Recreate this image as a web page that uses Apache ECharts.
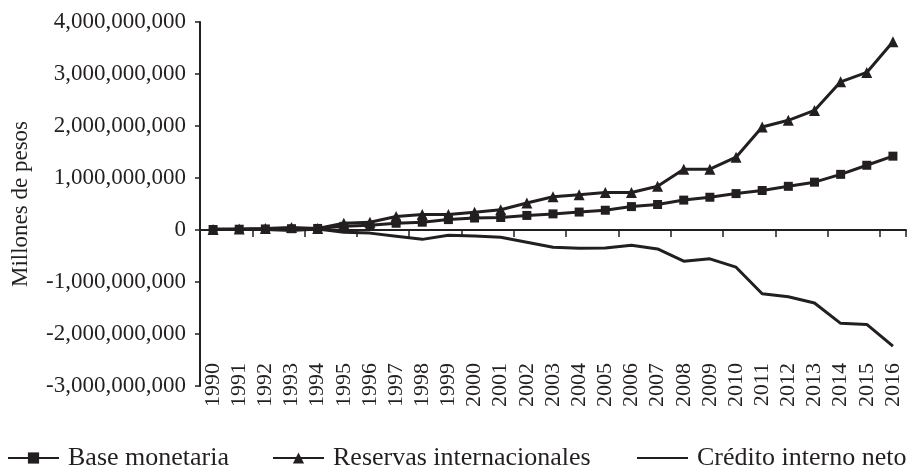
<!DOCTYPE html>
<html>
<head>
<meta charset="utf-8">
<script src="https://cdn.jsdelivr.net/npm/echarts@6/dist/echarts.min.js"></script>
<style>
  html, body { margin: 0; padding: 0; background: #fff; }
  #main-chart { width: 919px; height: 469px; }
</style>
</head>
<body>
<div id="main-chart"></div>
<script>
// años
const years = ['1990', '1991', '1992', '1993', '1994', '1995', '1996', '1997', '1998', '1999',
    '2000', '2001', '2002', '2003', '2004', '2005', '2006', '2007', '2008', '2009',
    '2010', '2011', '2012', '2013', '2014', '2015', '2016'];

// millones de pesos
const baseMonetaria = [10e6, 15e6, 20e6, 25e6, 30e6, 70e6, 90e6, 130e6, 150e6, 200e6,
    230e6, 240e6, 280e6, 310e6, 345e6, 380e6, 450e6, 490e6, 575e6, 630e6,
    700e6, 760e6, 840e6, 920e6, 1070e6, 1245e6, 1420e6];

const reservas = [10e6, 20e6, 30e6, 50e6, 30e6, 130e6, 150e6, 260e6, 300e6, 300e6,
    340e6, 390e6, 520e6, 640e6, 680e6, 720e6, 720e6, 840e6, 1170e6, 1170e6,
    1400e6, 1980e6, 2110e6, 2300e6, 2850e6, 3030e6, 3620e6];

const credito = [20e6, 10e6, 10e6, -10e6, 20e6, -45e6, -60e6, -120e6, -180e6, -100e6,
    -115e6, -140e6, -235e6, -330e6, -350e6, -345e6, -295e6, -365e6, -600e6, -555e6,
    -715e6, -1225e6, -1285e6, -1405e6, -1795e6, -1815e6, -2235e6];

const ink = '#231f20';
const serif = '"Liberation Serif", "Times New Roman", serif';

const myChart = echarts.init(document.getElementById('main-chart'));

function legendAt(name, left, hideSymbol) {
    return {
        data: [hideSymbol ? { name: name, itemStyle: { opacity: 0 } } : name],
        left: left,
        top: 440,
        itemWidth: 51,
        itemHeight: 14,
        itemGap: 0,
        textStyle: { fontFamily: serif, fontSize: 26, color: ink, padding: [0, 0, 0, 4] }
    };
}

const option = {
    animation: false,
    backgroundColor: '#fff',
    grid: { left: 200, right: 13, top: 22, bottom: 83, outerBoundsMode: 'none', containLabel: false },
    legend: [
        legendAt('Base monetaria', 2),
        legendAt('Reservas internacionales', 267),
        legendAt('Crédito interno neto', 631, true)
    ],
    xAxis: [{
        // línea en cero con marcas
        type: 'category',
        data: years,
        boundaryGap: true,
        axisLine: { show: true, onZero: true, lineStyle: { color: ink, width: 2 } },
        axisTick: { show: true, length: 7, inside: false, lineStyle: { color: ink, width: 1.5 } },
        axisLabel: { show: false },
        splitLine: { show: false }
    }, {
        // etiquetas abajo
        type: 'category',
        data: years,
        position: 'bottom',
        boundaryGap: true,
        axisLine: { show: false, onZero: false },
        axisTick: { show: false },
        axisLabel: {
            rotate: 90,
            margin: -23,
            fontFamily: serif,
            fontSize: 22,
            color: ink,
            interval: 0
        },
        splitLine: { show: false }
    }],
    yAxis: {
        type: 'value',
        min: -3000000000,
        max: 4000000000,
        interval: 1000000000,
        name: 'Millones de pesos',
        nameLocation: 'middle',
        nameRotate: 90,
        nameGap: 168,
        nameTextStyle: { fontFamily: serif, fontSize: 23, color: ink },
        axisLine: { show: true, lineStyle: { color: ink, width: 2 } },
        axisTick: { show: true, length: 5, lineStyle: { color: ink, width: 1.5 } },
        axisLabel: {
            margin: 14,
            fontFamily: serif,
            fontSize: 23,
            color: ink,
            formatter: function (v) { return v.toLocaleString('en-US'); }
        },
        splitLine: { show: false }
    },
    series: [{
        name: 'Base monetaria',
        type: 'line',
        data: baseMonetaria,
        symbol: 'rect',
        symbolSize: 9,
        lineStyle: { color: ink, width: 3 },
        itemStyle: { color: ink }
    }, {
        name: 'Reservas internacionales',
        type: 'line',
        data: reservas,
        symbol: 'triangle',
        symbolSize: 11,
        lineStyle: { color: ink, width: 3 },
        itemStyle: { color: ink }
    }, {
        name: 'Crédito interno neto',
        type: 'line',
        data: credito,
        symbol: 'none',
        lineStyle: { color: ink, width: 3 },
        itemStyle: { color: ink }
    }]
};

myChart.setOption(option);
</script>
</body>
</html>
